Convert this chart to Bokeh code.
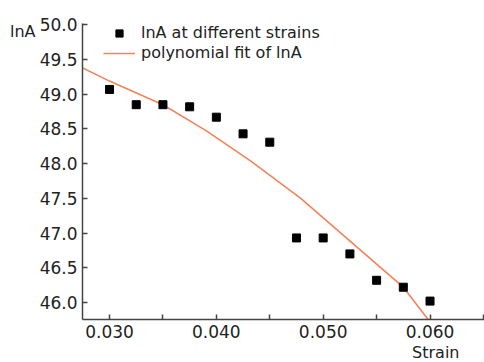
from bokeh.plotting import figure
from bokeh.models import Range1d, FixedTicker, Legend, LegendItem, NumeralTickFormatter, Title, LinearAxis
from bokeh.embed import file_html
from bokeh.resources import INLINE

# measured data points
strain = [0.030, 0.0325, 0.035, 0.0375, 0.040, 0.0425, 0.045, 0.0475, 0.050, 0.0525, 0.055, 0.0575, 0.060]
lnA = [49.07, 48.85, 48.85, 48.82, 48.67, 48.43, 48.31, 46.93, 46.93, 46.70, 46.32, 46.22, 46.02]

# polynomial fit curve
fit_strain = [0.0272, 0.030, 0.035, 0.039, 0.0432, 0.0479, 0.0533, 0.0575, 0.0600]
fit_lnA = [49.40, 49.19, 48.85, 48.48, 48.04, 47.50, 46.78, 46.22, 45.72]

x_major = [0.030, 0.040, 0.050, 0.060]
x_minor = [0.035, 0.045, 0.055, 0.065]
y_ticks = [46.0, 46.5, 47.0, 47.5, 48.0, 48.5, 49.0, 49.5, 50.0]
y_name_pos = 49.9
y_name = "lnA"
x_name = "Strain"

FONT = "DejaVu Sans"
AXIS_COLOR = "#444444"
TEXT_COLOR = "#222222"
FIT_COLOR = "#f0845a"

p = figure(width=484, height=362, output_backend="svg", toolbar_location=None,
           x_range=Range1d(0.02747, 0.0651), y_range=Range1d(45.755, 50.02),
           min_border_left=82, min_border_right=0, min_border_top=23, min_border_bottom=43)
p.outline_line_color = None
p.xgrid.grid_line_color = None
p.ygrid.grid_line_color = None
p.background_fill_color = "white"
p.border_fill_color = "white"

fit_r = p.line(fit_strain, fit_lnA, line_color=FIT_COLOR, line_width=1.6)
pts_r = p.scatter(strain, lnA, marker="square", size=8, fill_color="black", line_color="black")

for ax in (p.xaxis[0], p.yaxis[0]):
    ax.axis_line_color = AXIS_COLOR
    ax.axis_line_width = 1.5
    ax.major_tick_line_color = AXIS_COLOR
    ax.major_tick_line_width = 1.5
    ax.major_tick_in = 5
    ax.major_tick_out = 0
    ax.minor_tick_line_color = AXIS_COLOR
    ax.minor_tick_line_width = 1.5
    ax.minor_tick_in = 5
    ax.minor_tick_out = 0
    ax.major_label_text_font = FONT
    ax.major_label_text_font_size = "17px"
    ax.major_label_text_color = TEXT_COLOR
    ax.major_label_standoff = 5

p.xaxis[0].ticker = FixedTicker(ticks=x_major, minor_ticks=x_minor)
p.xaxis[0].formatter = NumeralTickFormatter(format="0.000")
p.yaxis[0].ticker = FixedTicker(ticks=y_ticks)
p.yaxis[0].formatter = NumeralTickFormatter(format="0.0")
p.yaxis[0].minor_tick_line_color = None

# y-axis name placed at the top, left of the tick labels
name_axis = LinearAxis(ticker=FixedTicker(ticks=[y_name_pos]),
                       major_label_overrides={y_name_pos: y_name},
                       axis_line_color=None, major_tick_line_color=None,
                       minor_tick_line_color=None, major_tick_in=0, major_tick_out=0,
                       minor_tick_in=0, minor_tick_out=0, major_label_standoff=1,
                       major_label_text_font=FONT, major_label_text_font_size="16px",
                       major_label_text_color=TEXT_COLOR)
p.add_layout(name_axis, "left")

p.add_layout(Title(text=x_name, align="right", offset=25, standoff=0,
                   text_font=FONT, text_font_size="16px", text_font_style="normal",
                   text_color=TEXT_COLOR), "below")

legend = Legend(items=[LegendItem(label="lnA at different strains", renderers=[pts_r]),
                       LegendItem(label="polynomial fit of lnA", renderers=[fit_r])],
                location=(21, 257), glyph_width=32, glyph_height=18, label_height=18,
                spacing=1, padding=0, margin=0, label_standoff=6,
                border_line_alpha=0, background_fill_alpha=0,
                label_text_font=FONT, label_text_font_size="16px", label_text_color=TEXT_COLOR)
p.add_layout(legend, "center")

open("out.html", "w").write(file_html(p, INLINE))
